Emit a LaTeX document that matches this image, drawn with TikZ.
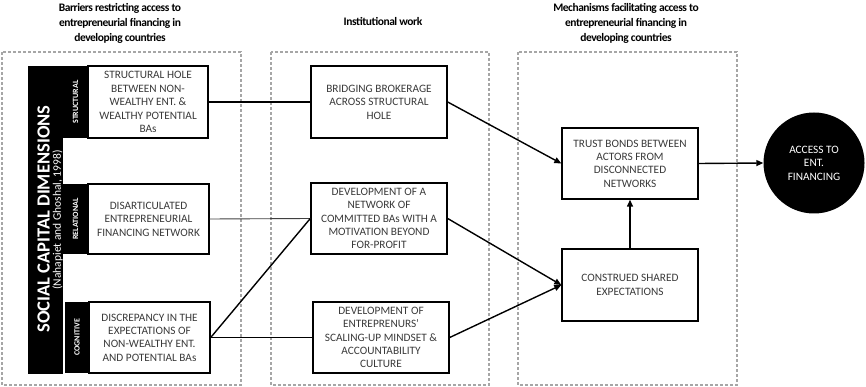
\documentclass[tikz,border=0pt]{standalone}
\usepackage{fontspec}
\setmainfont{Carlito}
\usetikzlibrary{arrows.meta}
\definecolor{txt}{HTML}{3A3A3A}
\definecolor{dashc}{HTML}{A6A6A6}
\begin{document}
\begin{tikzpicture}[x=1pt,y=-1pt,
  box/.style={draw=black, line width=1.4pt, fill=white, inner sep=1pt, align=center,
    font=\fontsize{11.3}{13.4}\selectfont, text=txt},
  lab/.style={fill=black, inner sep=0pt, text=white, align=center,
    font=\fontsize{8}{9}\selectfont\bfseries},
  group/.style={draw=dashc, line width=1.1pt, dash pattern=on 3pt off 2pt},
  ttl/.style={align=center, font=\fontsize{11.5}{15}\selectfont\bfseries\addfontfeature{LetterSpace=-4}},
  link/.style={line width=1.4pt},
  thinlink/.style={line width=0.9pt, draw=black!75},
  arr/.style={link, -{Triangle[length=7pt,width=6pt]}}
]
\useasboundingbox (0,0) rectangle (866,387);

% groups
\draw[group] (2,52) rectangle (241,385);
\draw[group] (271,52) rectangle (489,385);
\draw[group] (518,52) rectangle (737,385);

% titles
\node[ttl] (t1) at (120,23) {Barriers restricting access to\\entrepreneurial financing in\\developing countries};
\node[ttl] (t2) at (383,22) {Institutional work};
\node[ttl] (t3) at (626,23) {Mechanisms facilitating access to\\entrepreneurial financing in\\developing countries};

% left bar
\node[fill=black, minimum width=35pt, minimum height=308pt, inner sep=0pt] (bar) at (45.5,220) {};
\node[rotate=90, text=white, font=\fontsize{18.5}{20}\selectfont\bfseries] (scd) at (43.5,219) {SOCIAL CAPITAL DIMENSIONS};
\node[rotate=90, text=white, font=\fontsize{11.5}{12}\selectfont] (nah) at (57.5,220) {(Nahapiet and Ghoshal, 1998)};

\node[lab, minimum width=25pt, minimum height=72pt] (lst) at (75.5,102) {\rotatebox{90}{STRUCTURAL}};
\node[lab, minimum width=25pt, minimum height=70pt] (lre) at (75.5,219) {\rotatebox{90}{RELATIONAL}};
\node[lab, minimum width=24pt, minimum height=71pt] (lco) at (77,337.5) {\rotatebox{90}{COGNITIVE}};

% left boxes
\node[box, minimum width=120pt, minimum height=72pt] (sh) at (148,102) {STRUCTURAL HOLE\\BETWEEN NON-\\WEALTHY ENT. \&\\WEALTHY POTENTIAL\\BAs};
\node[box, minimum width=121pt, minimum height=70pt] (da) at (148.5,219) {DISARTICULATED\\ENTREPRENEURIAL\\FINANCING NETWORK};
\node[box, minimum width=121pt, minimum height=71pt] (dc) at (149.5,337.5) {DISCREPANCY IN THE\\EXPECTATIONS OF\\NON-WEALTHY ENT.\\AND POTENTIAL BAs};

% middle boxes
\node[box, minimum width=136pt, minimum height=72pt] (bb) at (379,102) {BRIDGING BROKERAGE\\ACROSS STRUCTURAL\\HOLE};
\node[box, minimum width=136pt, minimum height=71pt] (dn) at (379,218.5) {DEVELOPMENT OF A\\NETWORK OF\\COMMITTED BAs WITH A\\MOTIVATION BEYOND\\FOR-PROFIT};
\node[box, minimum width=136pt, minimum height=71pt] (de) at (381,337.5) {DEVELOPMENT OF\\ENTREPRENURS'\\SCALING-UP MINDSET \&\\ACCOUNTABILITY\\CULTURE};

% right boxes
\node[box, minimum width=136pt, minimum height=71pt] (tb) at (630,163.5) {TRUST BONDS BETWEEN\\ACTORS FROM\\DISCONNECTED\\NETWORKS};
\node[box, minimum width=136pt, minimum height=72pt] (cs) at (630,285) {CONSTRUED SHARED\\EXPECTATIONS};
\node[circle, fill=black, minimum size=101pt, inner sep=0pt, text=white, align=center,
  font=\fontsize{11.3}{13.5}\selectfont] (acc) at (814,163) {ACCESS TO\\ENT.\\FINANCING};

% connectors
\draw[link] (sh.east) -- (bb.west);
\draw[thinlink] (da.east) -- (dn.west);
\draw[link] (dc.east) -- (dn.west);
\draw[link] (dc.east) -- (de.west);
\draw[arr] (bb.east) -- (tb.west);
\draw[arr] (dn.east) -- (cs.west);
\draw[arr] (de.east) -- (cs.west);
\draw[arr] (cs.north) -- (tb.south);
\draw[arr] (tb.east) -- (acc.west);
\end{tikzpicture}
\end{document}
